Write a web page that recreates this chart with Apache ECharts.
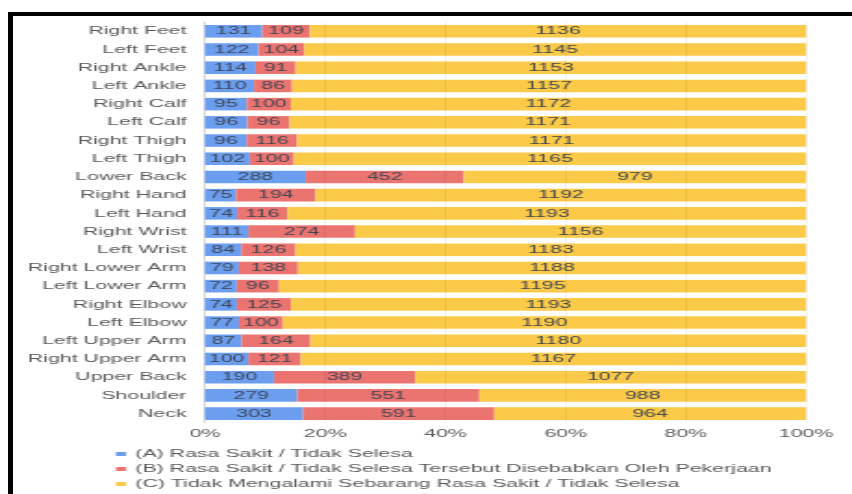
<!DOCTYPE html>
<html>
<head>
<meta charset="utf-8">
<script src="https://cdn.jsdelivr.net/npm/echarts@6/dist/echarts.min.js"></script>
<style>
  html, body { margin: 0; padding: 0; background: #fff; overflow: hidden; }
  #frame {
    position: absolute; left: 8px; top: 12px; width: 847px; height: 482px;
    border-top: 4px solid #000; border-left: 5px solid #000;
  }
  /* the source picture is stretched sideways, so the chart is too */
  #chart {
    position: absolute; left: 0; top: 0; width: 460px; height: 494px;
    transform: scaleX(1.852); transform-origin: 0 0;
  }
</style>
</head>
<body>
<div id="frame"></div>
<div id="chart"></div>
<script>
const categories = ['Right Feet', 'Left Feet', 'Right Ankle', 'Left Ankle', 'Right Calf', 'Left Calf',
  'Right Thigh', 'Left Thigh', 'Lower Back', 'Right Hand', 'Left Hand', 'Right Wrist', 'Left Wrist',
  'Right Lower Arm', 'Left Lower Arm', 'Right Elbow', 'Left Elbow', 'Left Upper Arm', 'Right Upper Arm',
  'Upper Back', 'Shoulder', 'Neck'];
const painA = [131, 122, 114, 110, 95, 96, 96, 102, 288, 75, 74, 111, 84, 79, 72, 74, 77, 87, 100, 190, 279, 303];
const painB = [109, 104, 91, 86, 100, 96, 116, 100, 452, 194, 116, 274, 126, 138, 96, 125, 100, 164, 121, 389, 551, 591];
const noPain = [1136, 1145, 1153, 1157, 1172, 1171, 1171, 1165, 979, 1192, 1193, 1156, 1183, 1188, 1195, 1193, 1190, 1180, 1167, 1077, 988, 964];
const seriesNames = [
  '(A) Rasa Sakit / Tidak Selesa',
  '(B) Rasa Sakit / Tidak Selesa Tersebut Disebabkan Oleh Pekerjaan',
  '(C) Tidak Mengalami Sebarang Rasa Sakit / Tidak Selesa'
];
const colors = ['#6c9ef0', '#ec7470', '#fbca48'];

const font = 'Liberation Sans, Arial, sans-serif';
const fs = 11.5;
const totals = categories.map((c, i) => painA[i] + painB[i] + noPain[i]);

function makeSeries(name, arr, color) {
  return {
    name: name,
    type: 'bar',
    stack: 'all',
    barWidth: '69%',
    itemStyle: { color: color },
    // 100% stacked: each value as share of its row
    data: arr.map((v, i) => v / totals[i] * 100),
    label: {
      show: true,
      position: 'inside',
      color: '#3e4653',
      fontFamily: font,
      fontSize: fs,
      formatter: (p) => arr[p.dataIndex]
    }
  };
}

const chart = echarts.init(document.getElementById('chart'), null, { renderer: 'canvas' });
chart.setOption({
  animation: false,
  color: colors,
  grid: { left: 110.7, right: 24.8, top: 22.2, bottom: 71.3 },
  legend: {
    orient: 'vertical',
    left: 62.6,
    top: 447.5,
    height: 60,
    padding: 0,
    icon: 'rect',
    itemWidth: 5.5,
    itemHeight: 4,
    itemGap: 2,
    textStyle: { color: '#595959', fontFamily: font, fontSize: fs, lineHeight: 13 },
    data: seriesNames
  },
  xAxis: {
    type: 'value',
    min: 0,
    max: 100,
    interval: 20,
    z: 3,
    axisLine: { show: false },
    axisTick: { show: false },
    splitLine: { lineStyle: { color: 'rgba(0,0,0,0.09)', width: 0.6 } },
    axisLabel: {
      formatter: '{value}%',
      color: '#595959',
      fontFamily: font,
      fontSize: fs,
      margin: 5
    }
  },
  yAxis: {
    type: 'category',
    inverse: true,
    data: categories,
    axisTick: { show: false },
    axisLine: { lineStyle: { color: '#c8c8c8', width: 0.6 } },
    axisLabel: { color: '#595959', fontFamily: font, fontSize: fs, margin: 10 }
  },
  series: [
    makeSeries(seriesNames[0], painA, colors[0]),
    makeSeries(seriesNames[1], painB, colors[1]),
    makeSeries(seriesNames[2], noPain, colors[2])
  ]
});
</script>
</body>
</html>
